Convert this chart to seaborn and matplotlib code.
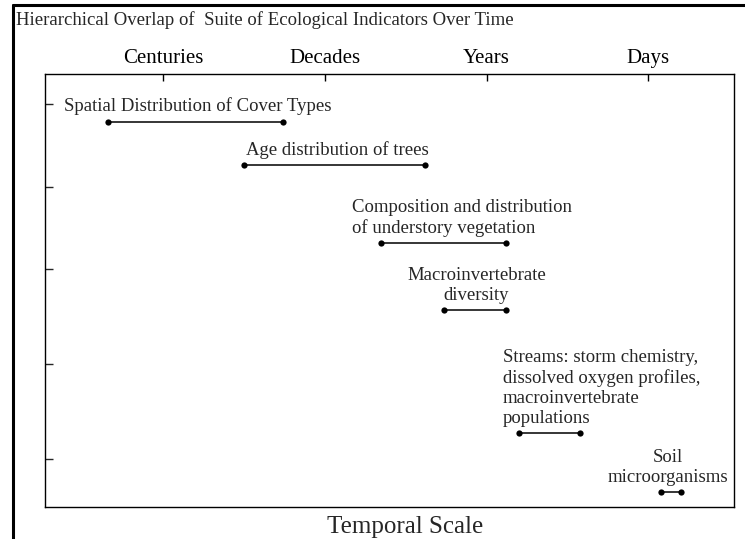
import pandas as pd
import matplotlib.pyplot as plt
import seaborn as sns
from matplotlib.lines import Line2D

# ------------------------------------------------------------------
# datos
# ------------------------------------------------------------------
escalas = ['Centuries', 'Decades', 'Years', 'Days']

indicadores = ['Spatial Distribution of Cover Types',
               'Age distribution of trees',
               'Composition and distribution\nof understory vegetation',
               'Macroinvertebrate\ndiversity',
               'Streams: storm chemistry,\ndissolved oxygen profiles,\nmacroinvertebrate\npopulations',
               'Soil\nmicroorganisms']

inicio = [-0.34, 0.50, 1.35, 1.74, 2.20, 3.08]
fin = [0.74, 1.62, 2.12, 2.12, 2.58, 3.20]
nivel = [89, 79, 61, 45.5, 17, 3.5]

marcas_y = [93, 74, 55, 33, 11]

filas = []
for nom, a, b, y in zip(indicadores, inicio, fin, nivel):
    filas.append({'Indicador': nom, 'Escala': a, 'Nivel': y})
    filas.append({'Indicador': nom, 'Escala': b, 'Nivel': y})
df = pd.DataFrame(filas)

sns.set_style("white")
plt.rcParams['font.family'] = ['Liberation Serif', 'DejaVu Serif']

fig = plt.figure(figsize=(7.45, 5.39), dpi=100)
ax = fig.add_axes([45 / 745, 1 - 507 / 539, 689 / 745, 433 / 539])

sns.lineplot(data=df, x='Escala', y='Nivel', units='Indicador', estimator=None,
             sort=False, color='black', linewidth=1.1, marker='o', markersize=4.5,
             markeredgewidth=0, ax=ax)

# etiquetas de cada indicador
alineacion = ['center', 'center', 'left', 'center', 'left', 'center']
desplaz = [2, 2, -21, 1, -11.5, -2]
for nom, a, b, y, ha, dx in zip(indicadores, inicio, fin, nivel, alineacion, desplaz):
    x0 = (a + b) / 2 if ha == 'center' else a
    ax.annotate(nom, (x0, y), xytext=(dx, 4.5), textcoords='offset points',
                ha=ha, va='bottom', fontsize=13.5, linespacing=1.22,
                multialignment=ha)

ax.set_xlim(-0.73, 3.53)
ax.set_ylim(0, 100)
ax.xaxis.tick_top()
ax.set_xticks(range(len(escalas)))
ax.set_xticklabels(escalas, fontsize=15)
ax.set_yticks(marcas_y)
ax.set_yticklabels([])
ax.tick_params(axis='x', direction='in', length=5, width=1, pad=4, colors='black')
ax.tick_params(axis='y', direction='in', length=6, width=1, left=True)
ax.xaxis.set_label_position('bottom')
ax.set_xlabel('Temporal Scale', fontsize=18)
ax.xaxis.set_label_coords((405 - 45) / 689, -0.02, transform=ax.transAxes)
ax.xaxis.label.set_va('top')
ax.set_ylabel('')
for s in ax.spines.values():
    s.set_color('black')
    s.set_linewidth(1.0)

# marco y titulo del documento
fig.add_artist(Line2D([13 / 745, 13 / 745], [0, 1 - 5 / 539], color='black', linewidth=2.2,
                      transform=fig.transFigure))
fig.add_artist(Line2D([13 / 745, 1], [1 - 5 / 539, 1 - 5 / 539], color='black', linewidth=2.2,
                      transform=fig.transFigure))
fig.text(16 / 745, 1 - 20 / 539, 'Hierarchical Overlap of  Suite of Ecological Indicators Over Time',
         ha='left', va='center', fontsize=13.5)

plt.savefig('out.png', dpi=100)
